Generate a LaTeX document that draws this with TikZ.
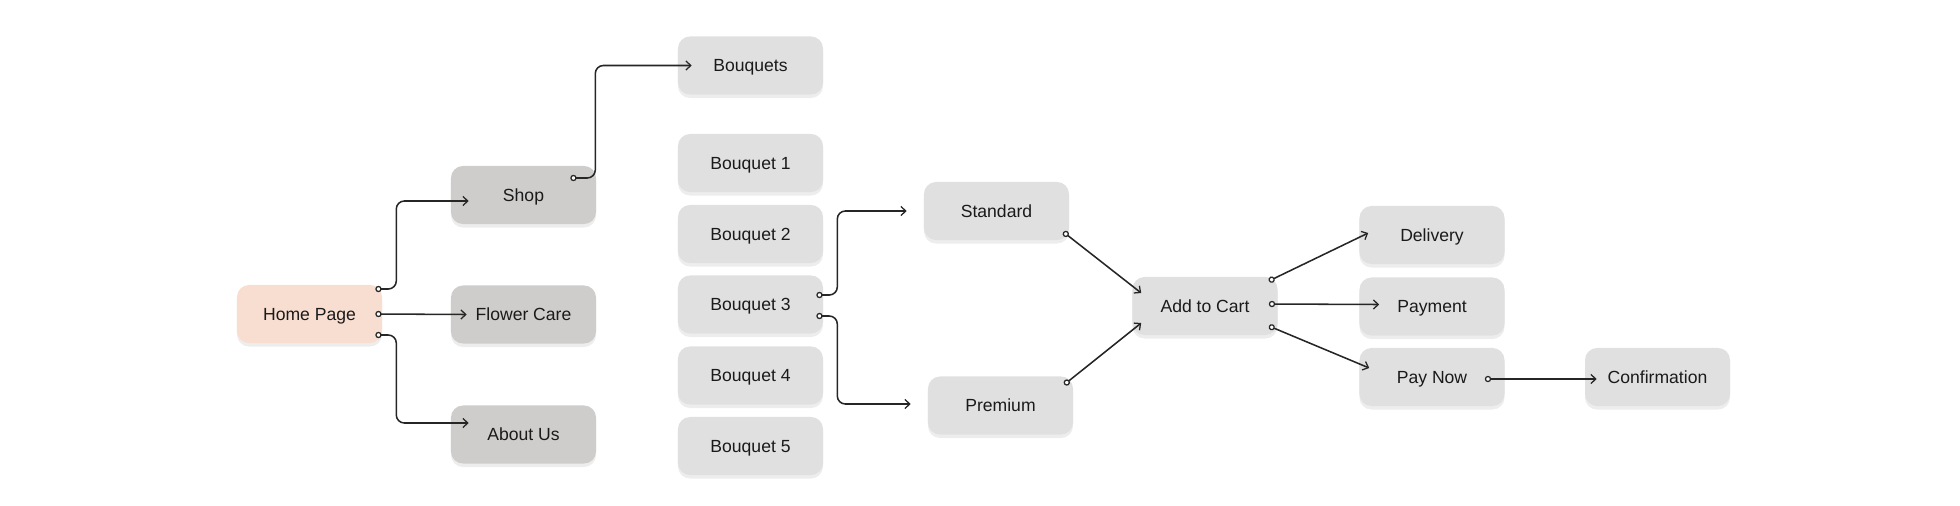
\documentclass[tikz,border=0pt]{standalone}
\usepackage{fontspec}
\setmainfont{Liberation Sans}
\usepackage{tikz}
\usetikzlibrary{positioning,arrows.meta,shadows}
\definecolor{boxgray}{HTML}{E0E0E0}
\definecolor{boxdark}{HTML}{CFCDCB}
\definecolor{boxpeach}{HTML}{F8DED1}
\definecolor{linegray}{HTML}{262626}
\definecolor{txt}{HTML}{1A1A1A}

\begin{document}
\begin{tikzpicture}[x=0.025cm,y=-0.025cm,
      nd/.style={rectangle,rounded corners=0.3cm,fill=boxgray,text=txt,
        font=\fontsize{12.5}{15}\selectfont,align=center,inner sep=0pt,
        text height=9pt,text depth=0pt,
        minimum width=3.625cm,minimum height=1.45cm,
        drop shadow={shadow xshift=0pt,shadow yshift=-2.5pt,opacity=0.07,fill=black}},
      ndk/.style={nd,fill=boxdark},
      conn/.style={draw=linegray,line width=1.1pt,rounded corners=0.2cm,
        {Circle[length=4.5pt,fill=white,line width=0.9pt]}-{Straight Barb[length=3.5pt,width=6.5pt,line width=0.9pt]}}]
    \useasboundingbox (0,0) rectangle (1960,506);
    \node[nd,fill=boxpeach](home) at (309.5,314) {Home Page};
    \node[ndk](shop)  at (523.5,195)   {Shop};
    \node[ndk](care)  at (523.5,314.5) {Flower Care};
    \node[ndk](about) at (523.5,434.5) {About Us};
    \node[nd](bqs) at (750.5,65.5)  {Bouquets};
    \node[nd](b1)  at (750.5,163)   {Bouquet 1};
    \node[nd](b2)  at (750.5,234)   {Bouquet 2};
    \node[nd](b3)  at (750.5,304.5) {Bouquet 3};
    \node[nd](b4)  at (750.5,375.5) {Bouquet 4};
    \node[nd](b5)  at (750.5,446)   {Bouquet 5};
    \node[nd](std)  at (996.5,211)   {Standard};
    \node[nd](prem) at (1000.5,405.5) {Premium};
    \node[nd](cart) at (1205,306) {Add to Cart};
    \node[nd](del)  at (1432,235)   {Delivery};
    \node[nd](pay)  at (1432,306.5) {Payment};
    \node[nd](now)  at (1432,377)   {Pay Now};
    \node[nd](conf) at (1657.5,377) {Confirmation};
    \draw[conn]([shift={(-7,-25)}]home.east)--++(21,0)|-([shift={(18,6)}]shop.west);
    \draw[conn]([shift={(-7,0)}]home.east)--([shift={(16,0)}]care.west);
    \draw[conn]([shift={(-7,21)}]home.east)--++(21,0)|-([shift={(18,-11.5)}]about.west);
    \draw[conn]([shift={(-26,-17)}]shop.east)--++(25,0)|-([shift={(14,0)}]bqs.west);
    \draw[conn]([shift={(-7,-9.5)}]b3.east)--++(21,0)|-([shift={(-17,0)}]std.west);
    \draw[conn]([shift={(-7,11.5)}]b3.east)--++(21,0)|-([shift={(-17,-1.5)}]prem.west);
    \draw[conn]([shift={(-6,21)}]std.east)--([shift={(9,-13)}]cart.west);
    \draw[conn]([shift={(-9,-21)}]prem.east)--([shift={(9,17)}]cart.west);
    \draw[conn]([shift={(-9,-25)}]cart.east)--([shift={(9,-2)}]del.west);
    \draw[conn]([shift={(-9,-2)}]cart.east)--([shift={(20,-2)}]pay.west);
    \draw[conn]([shift={(-9,20)}]cart.east)--([shift={(10,-9)}]now.west);
    \draw[conn]([shift={(-20,2)}]now.east)--([shift={(12,2)}]conf.west);
\end{tikzpicture}
\end{document}
